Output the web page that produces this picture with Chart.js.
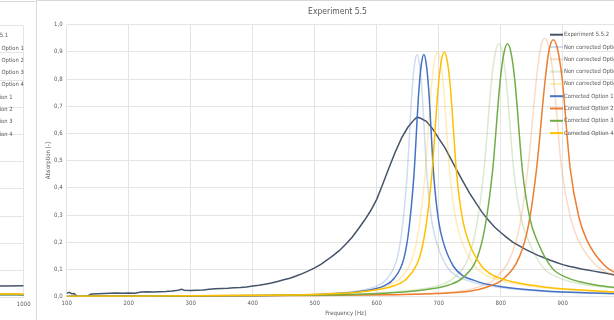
<!DOCTYPE html>
<html>
<head>
<meta charset="utf-8">
<title>Experiment 5.5</title>
<script src="https://cdn.jsdelivr.net/npm/chart.js@4.4.1/dist/chart.umd.min.js"></script>
<style>
  html, body { margin: 0; padding: 0; background: #fff; overflow: hidden; }
  body { width: 614px; height: 320px; position: relative; }
  .frame { position: absolute; border: 1px solid #d9d9d9; box-sizing: border-box; }
  canvas { position: absolute; }
</style>
</head>
<body>
<div class="frame" style="left:-565px; top:1px; width:602px; height:330px;"></div>
<div class="frame" style="left:36px; top:0px; width:604px; height:330px;"></div>
<canvas id="leftChart" width="601" height="322" style="left:-564px; top:2px;"></canvas>
<canvas id="chart" width="601" height="322" style="left:37px; top:1px;"></canvas>
<script>
// ---- data ----
const expFreq = [100,104,108,112,117,130,135,140,150,160,170,180,190,200,210,220,230,240,250,260,270,280,285,290,300,310,320,330,340,350,360,370,380,390,400,410,420,430,440,450,460,470,480,490,500,510,520,530,540,550,560,570,580,590,600,610,620,630,640,650,660,665,670,680,690,700,710,720,730,740,750,760,770,780,790,800,810,820,830,840,850,860,870,880,890,900,910,920,930,940,950,960,970,980,990,1000];
const expAbs = [0.012,0.016,0.011,0.012,0.001,0.000,0.005,0.010,0.011,0.012,0.013,0.014,0.013,0.014,0.013,0.017,0.018,0.017,0.018,0.019,0.021,0.024,0.027,0.024,0.023,0.024,0.025,0.027,0.029,0.030,0.031,0.033,0.034,0.036,0.039,0.042,0.046,0.050,0.056,0.062,0.068,0.076,0.085,0.095,0.106,0.119,0.135,0.152,0.170,0.193,0.218,0.248,0.280,0.315,0.358,0.415,0.475,0.532,0.583,0.622,0.650,0.660,0.657,0.645,0.618,0.582,0.548,0.505,0.462,0.420,0.380,0.345,0.310,0.282,0.256,0.236,0.217,0.200,0.187,0.174,0.163,0.152,0.143,0.134,0.126,0.118,0.112,0.107,0.102,0.098,0.094,0.090,0.086,0.082,0.078,0.075];

const nc1Freq = [100,265,425,505,553,585,601,617,633,641,649,657,661,665,669,673,681,689,697,713,729,745,761,793,825,889,985,1000];
const nc1Abs  = [0.001,0.002,0.004,0.009,0.016,0.028,0.040,0.067,0.142,0.249,0.445,0.757,0.854,0.890,0.854,0.757,0.445,0.276,0.196,0.111,0.076,0.061,0.049,0.036,0.027,0.017,0.011,0.010];

const nc2Freq = [100,196,466,601,682,736,763,790,817,831,844,858,864,871,878,885,898,912,925,952,979,1000];
const nc2Abs  = [0.001,0.002,0.004,0.007,0.012,0.020,0.035,0.065,0.152,0.266,0.475,0.808,0.912,0.950,0.912,0.808,0.475,0.295,0.209,0.119,0.081,0.067];

const nc3Freq = [100,197,437,557,629,677,701,725,749,761,773,785,791,797,803,809,821,833,845,869,893,917,941,989,1000];
const nc3Abs  = [0.001,0.002,0.005,0.009,0.017,0.030,0.042,0.070,0.149,0.260,0.465,0.791,0.893,0.930,0.893,0.791,0.465,0.288,0.205,0.105,0.070,0.053,0.042,0.031,0.030];

const nc4Freq = [100,198,398,498,558,598,618,638,658,668,678,688,693,698,703,708,718,728,738,758,778,798,818,858,898,978,1000];
const nc4Abs  = [0.001,0.002,0.005,0.009,0.016,0.029,0.041,0.068,0.144,0.252,0.450,0.765,0.864,0.900,0.864,0.765,0.450,0.279,0.198,0.113,0.077,0.061,0.050,0.036,0.027,0.017,0.015];

const c1Freq = [100,276,436,516,564,596,612,628,644,652,660,668,672,676,680,684,692,700,708,724,740,756,772,804,836,900,1000];
const c1Abs  = [0.001,0.002,0.004,0.009,0.016,0.028,0.040,0.067,0.142,0.249,0.445,0.757,0.854,0.890,0.854,0.757,0.445,0.276,0.196,0.111,0.076,0.061,0.049,0.036,0.027,0.017,0.011];

const c2Freq = [100,210,480,615,696,750,777,804,831,845,858,872,878,885,892,899,912,926,939,966,993,1000];
const c2Abs  = [0.001,0.002,0.004,0.007,0.012,0.020,0.035,0.065,0.151,0.265,0.473,0.803,0.907,0.945,0.907,0.803,0.473,0.293,0.208,0.118,0.080,0.078];

const c3Freq = [100,211,451,571,643,691,715,739,763,775,787,799,805,811,817,823,835,847,859,883,907,931,955,1000];
const c3Abs  = [0.001,0.002,0.005,0.009,0.017,0.030,0.042,0.070,0.149,0.260,0.465,0.791,0.893,0.930,0.893,0.791,0.465,0.288,0.205,0.105,0.070,0.053,0.042,0.030];

const c4Freq = [100,209,409,509,569,609,629,649,669,679,689,699,704,709,714,719,729,739,749,769,789,809,829,869,909,989,1000];
const c4Abs  = [0.001,0.002,0.005,0.009,0.016,0.029,0.041,0.068,0.144,0.252,0.450,0.765,0.864,0.900,0.864,0.765,0.450,0.279,0.198,0.113,0.077,0.061,0.050,0.036,0.027,0.017,0.016];

// the chart to the left, only its last bit is on screen
const leftFreq = [940, 970, 1000];
const leftExpAbs = [0.044, 0.043, 0.044];
const leftNcAbs  = [0.012, 0.012, 0.011];
const leftC1Abs  = [0.011, 0.011, 0.010];
const leftC2Abs  = [0.013, 0.013, 0.012];
const leftC3Abs  = [0.012, 0.012, 0.011];
const leftC4Abs  = [0.014, 0.014, 0.013];

const seriesNames = ['Experiment 5.5.2', 'Non corrected Option 1', 'Non corrected Option 2', 'Non corrected Option 3', 'Non corrected Option 4', 'Corrected Option 1', 'Corrected Option 2', 'Corrected Option 3', 'Corrected Option 4'];
const leftNames = ['Experiment 5.5.1', 'Non corrected Option 1', 'Non corrected Option 2', 'Non corrected Option 3', 'Non corrected Option 4', 'Corrected Option 1', 'Corrected Option 2', 'Corrected Option 3', 'Corrected Option 4'];
const colors = ['#44546A', 'rgba(68,114,196,0.25)', 'rgba(237,125,49,0.28)', 'rgba(112,173,71,0.25)', 'rgba(255,192,0,0.28)', '#4472C4', '#ED7D31', '#70AD47', '#FFC000'];

const FONT = '"Liberation Sans Narrow", "DejaVu Sans Condensed", "Liberation Sans", sans-serif';
const TXT = '#595959';

function pts(xs, ys) {
  return xs.map((x, i) => ({ x: x, y: ys[i] }));
}

function makeSets(names, pairs) {
  return pairs.map((p, i) => ({
    label: names[i],
    data: pts(p[0], p[1]),
    borderColor: colors[i],
    backgroundColor: colors[i],
    borderWidth: 1.5,
    pointRadius: 0,
    tension: 0,
    cubicInterpolationMode: i == 0 ? 'default' : 'monotone',
    order: 8 - i
  }));
}

// excel style legend sitting on top of the plot
const overlayLegend = {
  id: 'overlayLegend',
  afterDraw(chart) {
    const { ctx, chartArea } = chart;
    ctx.save();
    ctx.font = '5.8px ' + FONT;
    ctx.fillStyle = TXT;
    ctx.textBaseline = 'middle';
    chart.data.datasets.forEach((ds, i) => {
      const y = chartArea.top + 10 + i * 12.3;
      const x0 = chartArea.right - 74.7;
      ctx.strokeStyle = ds.borderColor;
      ctx.lineWidth = 2;
      ctx.beginPath();
      ctx.moveTo(x0, y);
      ctx.lineTo(x0 + 13, y);
      ctx.stroke();
      ctx.fillText(ds.label, x0 + 14, y);
    });
    ctx.restore();
  }
};

function makeChart(id, title, datasets) {
  return new Chart(document.getElementById(id), {
    type: 'line',
    data: { datasets: datasets },
    plugins: [overlayLegend],
    options: {
      animation: false,
      responsive: false,
      layout: { padding: 0 },
      plugins: {
        legend: { display: false },
        tooltip: { enabled: false },
        title: {
          display: true,
          text: title,
          color: TXT,
          font: { size: 8.5, family: FONT, weight: 'normal' },
          padding: { top: 6, bottom: 7.5 }
        }
      },
      scales: {
        x: {
          type: 'linear',
          min: 100,
          max: 1000,
          grid: { color: '#e4e4e4', drawTicks: false },
          border: { display: false },
          ticks: { stepSize: 100, padding: 3, color: TXT, font: { size: 6, family: FONT }, maxRotation: 0, callback: v => String(v) },
          title: { display: true, text: 'Frequency [Hz]', color: TXT, font: { size: 6, family: FONT }, padding: { top: 0, bottom: 6 } },
          afterFit(scale) { scale.height = 26.3; }
        },
        y: {
          min: 0,
          max: 1,
          grid: { color: '#e4e4e4', drawTicks: false },
          border: { display: false },
          ticks: {
            stepSize: 0.1, padding: 4, color: TXT, font: { size: 6, family: FONT },
            callback: v => v.toFixed(1).replace('.', ',')
          },
          title: { display: true, text: 'Absorption [-]', color: TXT, font: { size: 6, family: FONT }, padding: { top: 8, bottom: 0 } },
          afterFit(scale) { scale.width = 29.7; }
        },
        // empty strip on the right so the plot ends where excel put it
        spacer: {
          position: 'right',
          display: true,
          grid: { display: false },
          border: { display: false },
          ticks: { display: false },
          afterFit(scale) { scale.width = 13.3; }
        }
      }
    }
  });
}

makeChart('chart', 'Experiment 5.5', makeSets(seriesNames, [
  [expFreq, expAbs], [nc1Freq, nc1Abs], [nc2Freq, nc2Abs], [nc3Freq, nc3Abs], [nc4Freq, nc4Abs],
  [c1Freq, c1Abs], [c2Freq, c2Abs], [c3Freq, c3Abs], [c4Freq, c4Abs]
]));

makeChart('leftChart', 'Experiment 5.5', makeSets(leftNames, [
  [leftFreq, leftExpAbs], [leftFreq, leftNcAbs], [leftFreq, leftNcAbs], [leftFreq, leftNcAbs], [leftFreq, leftNcAbs],
  [leftFreq, leftC1Abs], [leftFreq, leftC2Abs], [leftFreq, leftC3Abs], [leftFreq, leftC4Abs]
]));
</script>
</body>
</html>
